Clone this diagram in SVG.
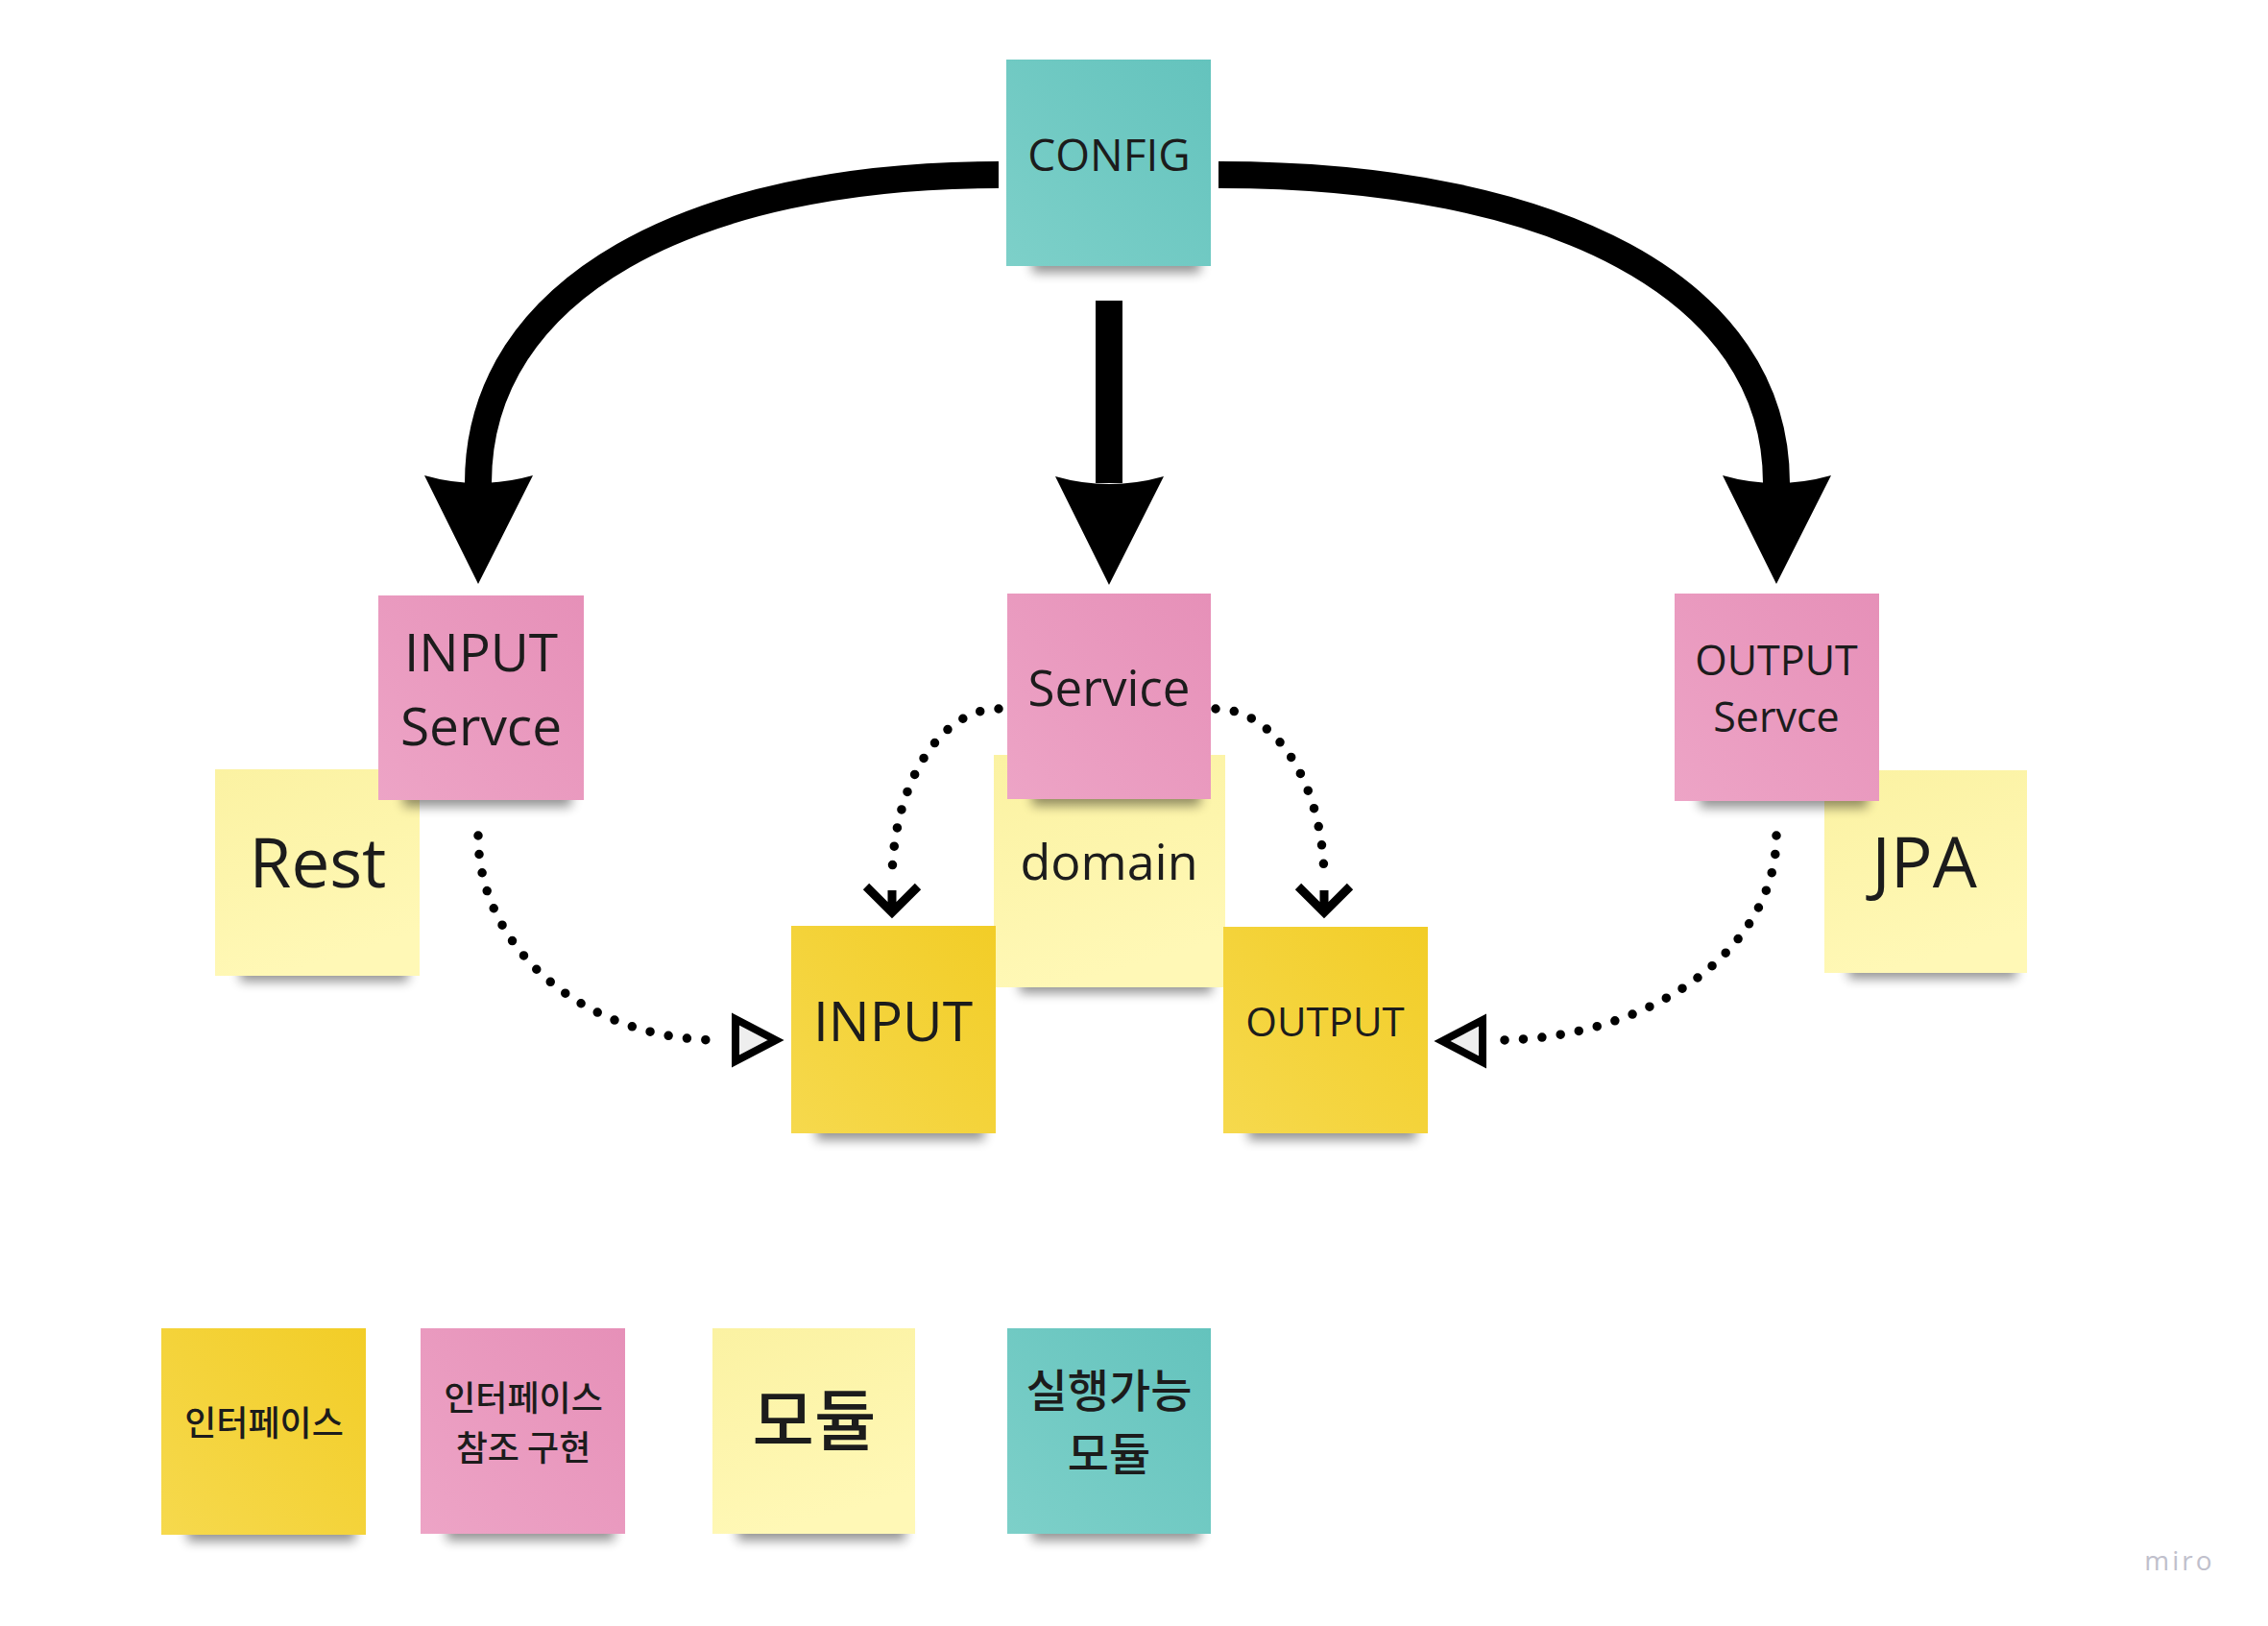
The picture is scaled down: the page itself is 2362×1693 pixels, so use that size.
<svg xmlns="http://www.w3.org/2000/svg" xmlns:xlink="http://www.w3.org/1999/xlink" width="2362" height="1693" viewBox="0 0 2362 1693">
<style>
.t{font-family:"Open Sans","Noto Sans",sans-serif;fill:#1c1c1c;text-anchor:middle}
.k{font-family:"Noto Sans CJK KR","Noto Sans",sans-serif;font-weight:500;fill:#1c1c1c;text-anchor:middle}
.sh{fill:#000;opacity:.42;filter:url(#blur)}
.big{fill:none;stroke:#000;stroke-width:28;stroke-linecap:butt}
.dot{fill:none;stroke:#000;stroke-width:9.5;stroke-linecap:round;stroke-dasharray:0 19.5}
.chev{fill:none;stroke:#000;stroke-width:9;stroke-linejoin:miter}
.tri{fill:#eeeeee;stroke:#000;stroke-width:8;stroke-linejoin:miter}
</style>
<defs>
<filter id="blur" x="-20%" y="-100%" width="140%" height="300%"><feGaussianBlur stdDeviation="6"/></filter>
<linearGradient id="gY" x1="1" y1="0" x2="0" y2="1"><stop offset="0" stop-color="#f2cd27"/><stop offset="1" stop-color="#f6d94d"/></linearGradient>
<linearGradient id="gP" x1="1" y1="0" x2="0" y2="1"><stop offset="0" stop-color="#e690b8"/><stop offset="1" stop-color="#eda4c6"/></linearGradient>
<linearGradient id="gL" x1="0" y1="0" x2="0.3" y2="1"><stop offset="0" stop-color="#fbf2a2"/><stop offset="1" stop-color="#fff8b6"/></linearGradient>
<linearGradient id="gT" x1="1" y1="0" x2="0" y2="1"><stop offset="0" stop-color="#64c3bd"/><stop offset="1" stop-color="#7dd0c9"/></linearGradient>
<path id="bigHead" d="M-56,-113 Q0,-97 57,-113 L0,0 Z" fill="#000"/>
<path id="chevHead" class="chev" d="M-27,-28 L0,-1 L27,-28 M0,-24 L0,-4"/>
<path id="triHead" class="tri" d="M0,0 L-42,-22 L-42,22 Z"/>
</defs>
<rect width="2362" height="1693" fill="#ffffff"/>

<g id="node-rest">
<rect class="sh" x="250" y="1000" width="175" height="22"/>
<rect x="224" y="801" width="213" height="215" fill="url(#gL)"/>
<text class="t" x="331" y="924" font-size="71">Rest</text>
</g>
<g id="node-jpa">
<rect class="sh" x="1925" y="997" width="175" height="22"/>
<rect x="1900" y="802" width="211" height="211" fill="url(#gL)"/>
<text class="t" x="2004" y="924" font-size="73">JPA</text>
</g>
<g id="node-domain">
<rect class="sh" x="1062" y="1012" width="200" height="22"/>
<rect x="1035" y="786" width="241" height="242" fill="url(#gL)"/>
<text class="t" x="1155" y="916" font-size="52">domain</text>
</g>

<g id="node-config">
<rect class="sh" x="1075" y="262" width="175" height="22"/>
<rect x="1048" y="62" width="213" height="215" fill="url(#gT)"/>
<text class="t" x="1155" y="178" font-size="46">CONFIG</text>
</g>
<g id="node-input-service">
<rect class="sh" x="420" y="818" width="175" height="22"/>
<rect x="394" y="620" width="214" height="213" fill="url(#gP)"/>
<text class="t" x="501" y="699" font-size="55">INPUT</text>
<text class="t" x="501" y="776" font-size="55">Servce</text>
</g>
<g id="node-service">
<rect class="sh" x="1075" y="817" width="175" height="22"/>
<rect x="1049" y="618" width="212" height="214" fill="url(#gP)"/>
<text class="t" x="1155" y="735" font-size="51">Service</text>
</g>
<g id="node-output-service">
<rect class="sh" x="1770" y="819" width="175" height="22"/>
<rect x="1744" y="618" width="213" height="216" fill="url(#gP)"/>
<text class="t" x="1850" y="703" font-size="43">OUTPUT</text>
<text class="t" x="1850" y="762" font-size="43">Servce</text>
</g>
<g id="node-input">
<rect class="sh" x="850" y="1165" width="175" height="22"/>
<rect x="824" y="964" width="213" height="216" fill="url(#gY)"/>
<text class="t" x="930" y="1084" font-size="57">INPUT</text>
</g>
<g id="node-output">
<rect class="sh" x="1300" y="1165" width="175" height="22"/>
<rect x="1274" y="965" width="213" height="215" fill="url(#gY)"/>
<text class="t" x="1380" y="1079" font-size="42">OUTPUT</text>
</g>

<g id="legend-interface">
<rect class="sh" x="195" y="1583" width="175" height="22"/>
<rect x="168" y="1383" width="213" height="215" fill="url(#gY)"/>
<text class="k" x="275" y="1495" font-size="36">인터페이스</text>
</g>
<g id="legend-impl">
<rect class="sh" x="465" y="1582" width="175" height="22"/>
<rect x="438" y="1383" width="213" height="214" fill="url(#gP)"/>
<text class="k" x="545" y="1469" font-size="36">인터페이스</text>
<text class="k" x="545" y="1521" font-size="36">참조 구현</text>
</g>
<g id="legend-module">
<rect class="sh" x="768" y="1582" width="175" height="22"/>
<rect x="742" y="1383" width="211" height="214" fill="url(#gL)"/>
<text class="k" x="848" y="1505" font-size="70">모듈</text>
</g>
<g id="legend-exec">
<rect class="sh" x="1075" y="1582" width="175" height="22"/>
<rect x="1049" y="1383" width="212" height="214" fill="url(#gT)"/>
<text class="k" x="1155" y="1465" font-size="47">실행가능</text>
<text class="k" x="1155" y="1531" font-size="47">모듈</text>
</g>

<g id="connectors">
<path class="big" d="M1040,182 C720,182 498,300 498,503"/>
<use xlink:href="#bigHead" x="498" y="608"/>
<path class="big" d="M1155,313 L1155,503"/>
<use xlink:href="#bigHead" x="1155" y="609"/>
<path class="big" d="M1269,182 C1620,182 1850,300 1850,503"/>
<use xlink:href="#bigHead" x="1850" y="608"/>

<path class="dot" d="M1040,738 C979,738 929,817 929,918"/>
<use xlink:href="#chevHead" x="929" y="951"/>
<path class="dot" d="M1266,738 C1328,738 1379,817 1379,918"/>
<use xlink:href="#chevHead" x="1379" y="951"/>

<path class="dot" d="M498,870 C498,988 610,1083 749,1083"/>
<use xlink:href="#triHead" x="808" y="1083"/>
<path class="dot" d="M1850,870 C1850,988 1719,1083 1557,1083"/>
<use xlink:href="#triHead" transform="translate(1502,1084) rotate(180)"/>
</g>

<text x="2270" y="1635" font-family="'Open Sans',sans-serif" font-size="28" letter-spacing="3" fill="#c0c0cc" text-anchor="middle">miro</text>
</svg>
